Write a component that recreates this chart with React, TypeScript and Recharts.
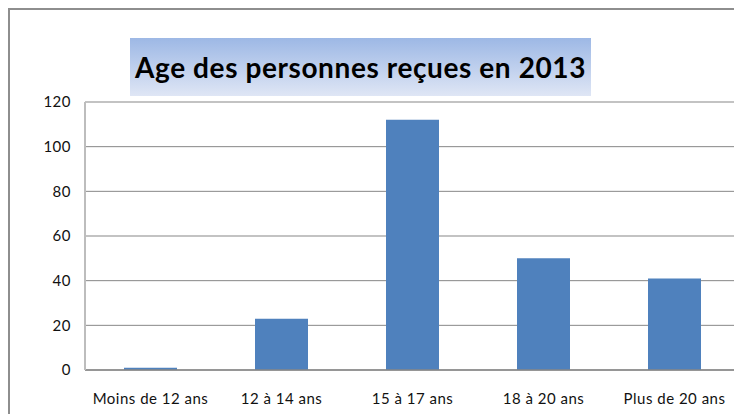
import { Bar, BarChart, CartesianGrid, XAxis, YAxis } from 'recharts'

// Age groups of people seen in 2013
const categories = ['Moins de 12 ans', '12 à 14 ans', '15 à 17 ans', '18 à 20 ans', 'Plus de 20 ans']
const counts = [1, 23, 112, 50, 41]
const yTicks = [0, 20, 40, 60, 80, 100, 120]

const TITLE = 'Age des personnes reçues en 2013'
const BAR = '#4F81BD'
const GRID = '#878787'
const FONT = 'Lato, "Open Sans", sans-serif'

const data = categories.map((name, i) => ({ name, value: counts[i] }))

const tickStyle = { fontSize: 15, fill: '#111', fontFamily: FONT, letterSpacing: 0.5 }

export default function App() {
  return (
    <div
      style={{
        position: 'fixed',
        left: 0,
        top: 0,
        width: 734,
        height: 414,
        overflow: 'hidden',
        background: '#fff',
        fontFamily: FONT,
      }}
    >
      {/* outer chart frame, runs past the right and bottom edges */}
      <div
        style={{
          position: 'absolute',
          left: 8,
          top: 8,
          width: 800,
          height: 500,
          border: '2px solid #8e8e8e',
        }}
      />

      <div style={{ position: 'absolute', left: 0, top: 0 }}>
        <BarChart width={760} height={414} data={data} margin={{ top: 102, right: 20, left: 0, bottom: 0 }} barSize={53}>
          <CartesianGrid vertical={false} stroke={GRID} />
          <XAxis
            dataKey="name"
            height={44}
            axisLine={{ stroke: GRID, strokeWidth: 1.5 }}
            tickLine={false}
            tickSize={0}
            tickMargin={23}
            tick={tickStyle}
            interval={0}
          />
          <YAxis
            width={85}
            domain={[0, 120]}
            ticks={yTicks}
            axisLine={{ stroke: '#bdbdbd', strokeWidth: 2 }}
            tickLine={false}
            tickSize={0}
            tickMargin={14}
            tick={tickStyle}
          />
          <Bar dataKey="value" fill={BAR} isAnimationActive={false} />
        </BarChart>
      </div>

      {/* title in a gradient box */}
      <div
        style={{
          position: 'absolute',
          left: 130,
          top: 38,
          width: 461,
          height: 58,
          background: 'linear-gradient(to bottom, #9db8e5, #dfe6f5)',
          display: 'flex',
          alignItems: 'center',
          justifyContent: 'center',
          fontSize: 28,
          fontWeight: 700,
          letterSpacing: 0.6,
          color: '#000',
          whiteSpace: 'nowrap',
        }}
      >
        {TITLE}
      </div>
    </div>
  )
}
